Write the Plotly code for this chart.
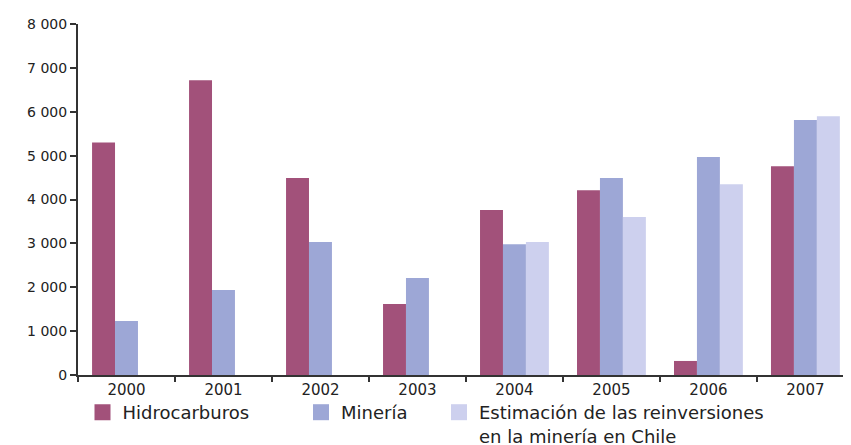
import plotly.graph_objects as go

years = ["2000", "2001", "2002", "2003", "2004", "2005", "2006", "2007"]
hidrocarburos = [5300, 6720, 4490, 1620, 3760, 4210, 320, 4760]
mineria = [1230, 1940, 3030, 2210, 2980, 4490, 4970, 5810]
estimacion = [None, None, None, None, 3030, 3600, 4350, 5900]

y_tickvals = [0, 1000, 2000, 3000, 4000, 5000, 6000, 7000, 8000]
y_ticktext = ["0", "1 000", "2 000", "3 000", "4 000", "5 000", "6 000", "7 000", "8 000"]

names = ["Hidrocarburos", "Minería", "Estimación de las reinversiones<br>en la minería en Chile"]
colors = ["#a2517a", "#9da7d6", "#cdd0ee"]
series = [hidrocarburos, mineria, estimacion]

fig = go.Figure()
for vals, col in zip(series, colors):
    fig.add_trace(go.Bar(x=years, y=vals, marker=dict(color=col, line=dict(width=0)),
                         showlegend=False))

legend_ids = ["legend", "legend2", "legend3"]
for name, col, lid in zip(names, colors, legend_ids):
    fig.add_trace(go.Scatter(x=[None], y=[None], mode="markers", name=name,
                             marker=dict(symbol="square", size=16, color=col),
                             legend=lid, showlegend=True))

font_fam = "DejaVu Sans, Arial, sans-serif"
leg_common = dict(orientation="h", xref="container", yref="container",
                  xanchor="left", yanchor="top", bgcolor="rgba(0,0,0,0)",
                  font=dict(family=font_fam, size=18, color="#222"),
                  valign="top", borderwidth=0)
leg_y = (445 - 386) / 445

fig.update_layout(
    width=851, height=445,
    margin=dict(l=70, r=8, t=16, b=78, autoexpand=False),
    paper_bgcolor="white", plot_bgcolor="white",
    barmode="group", bargap=0.29, bargroupgap=0,
    font=dict(family=font_fam, color="#222"),
    xaxis=dict(type="category", range=[-0.5, 7.47], showgrid=False,
               showline=True, linecolor="#333", linewidth=2,
               ticks="outside", tickson="boundaries", ticklen=5, tickwidth=2,
               tickcolor="#333", tickfont=dict(size=15, color="#222")),
    yaxis=dict(range=[0, 8000], tickvals=y_tickvals, ticktext=y_ticktext,
               showgrid=False, zeroline=False, showline=True, linecolor="#333",
               linewidth=2, ticks="outside", ticklen=6, tickwidth=2,
               tickcolor="#333", tickfont=dict(size=14, color="#222")),
    legend=dict(x=74.5 / 851, y=leg_y, **leg_common),
    legend2=dict(x=293 / 851, y=leg_y, **leg_common),
    legend3=dict(x=431 / 851, y=leg_y, **leg_common),
)

fig.write_html("out.html")
